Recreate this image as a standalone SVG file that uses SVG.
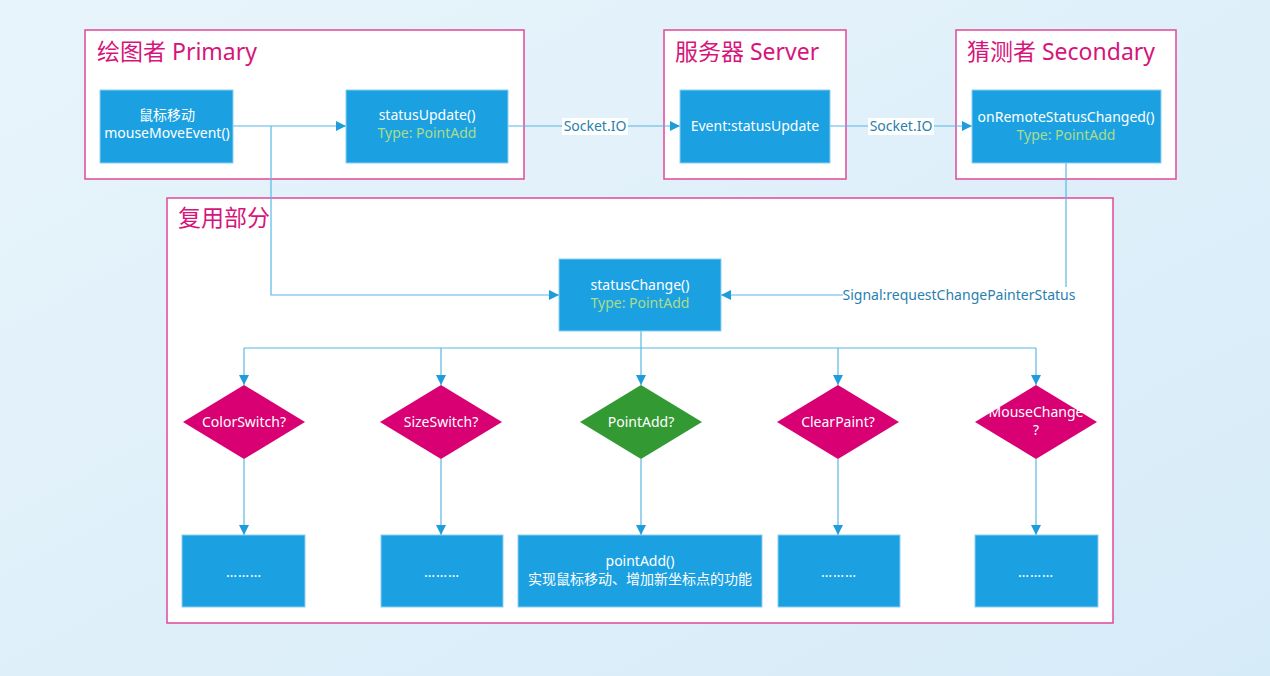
<svg xmlns="http://www.w3.org/2000/svg" width="1270" height="676" viewBox="0 0 1270 676">
<defs>
<linearGradient id="bg" x1="0" y1="0" x2="1" y2="1">
<stop offset="0" stop-color="#e8f4fb"/>
<stop offset="1" stop-color="#d6ebf8"/>
</linearGradient>
<marker id="arr" viewBox="0 0 10 10" refX="10" refY="5" markerWidth="10" markerHeight="10" markerUnits="userSpaceOnUse" orient="auto">
<path d="M0,0 L10,5 L0,10 Z" fill="#1f9ddb"/>
</marker>
<style>
.cont{fill:#ffffff;stroke:#e0489a;stroke-width:1.5}
.title{font-family:"Noto Sans","Noto Sans CJK SC",sans-serif;font-size:23px;fill:#d6157a}
.box{fill:#1ba1e2;stroke:#8ccff0;stroke-width:1}
.t{font-family:"Noto Sans","Noto Sans CJK SC",sans-serif;font-size:14px;fill:#ffffff;text-anchor:middle}
.g{fill:#a9dc8c}
.dots{letter-spacing:1px}
.dia{fill:#d80073}
.dia2{fill:#339933}
.ln{fill:none;stroke:#5bb6e6;stroke-width:1.2}
.lbl{font-family:"Noto Sans","Noto Sans CJK SC",sans-serif;font-size:14px;fill:#2a7fae;text-anchor:middle}
</style>
</defs>
<rect x="0" y="0" width="1270" height="676" fill="url(#bg)"/>

<g id="primary">
<rect class="cont" x="85" y="30" width="439" height="149"/>
<text class="title" x="97" y="60">绘图者 Primary</text>
</g>
<g id="server">
<rect class="cont" x="664" y="30" width="182" height="149"/>
<text class="title" x="675" y="60">服务器 Server</text>
</g>
<g id="secondary">
<rect class="cont" x="956" y="30" width="220" height="149"/>
<text class="title" x="967" y="60">猜测者 Secondary</text>
</g>
<g id="reuse">
<rect class="cont" x="167" y="198" width="946" height="425"/>
<text class="title" x="178" y="226">复用部分</text>
</g>

<g id="connectors">
<path class="ln" d="M233,126 H346" marker-end="url(#arr)"/>
<path class="ln" d="M271,126 V295 H559" marker-end="url(#arr)"/>
<path class="ln" d="M508,126 H680" marker-end="url(#arr)"/>
<rect x="562" y="118" width="66" height="17" fill="#ffffff"/>
<text class="lbl" x="595" y="131">Socket.IO</text>
<path class="ln" d="M830,126 H972" marker-end="url(#arr)"/>
<rect x="868" y="118" width="66" height="17" fill="#ffffff"/>
<text class="lbl" x="901" y="131">Socket.IO</text>
<path class="ln" d="M1066,163 V295 H721" marker-end="url(#arr)"/>
<rect x="843" y="287" width="234" height="17" fill="#ffffff"/>
<text class="lbl" x="959" y="300">Signal:requestChangePainterStatus</text>
<path class="ln" d="M641,331 V348"/>
<path class="ln" d="M244,348 H1036"/>
<path class="ln" d="M244,348 V385" marker-end="url(#arr)"/>
<path class="ln" d="M441,348 V385" marker-end="url(#arr)"/>
<path class="ln" d="M641,348 V385" marker-end="url(#arr)"/>
<path class="ln" d="M838,348 V385" marker-end="url(#arr)"/>
<path class="ln" d="M1036,348 V385" marker-end="url(#arr)"/>
<path class="ln" d="M244,459 V535" marker-end="url(#arr)"/>
<path class="ln" d="M441,459 V535" marker-end="url(#arr)"/>
<path class="ln" d="M641,459 V535" marker-end="url(#arr)"/>
<path class="ln" d="M838,459 V535" marker-end="url(#arr)"/>
<path class="ln" d="M1036,459 V535" marker-end="url(#arr)"/>
</g>

<g id="mouseMove">
<rect class="box" x="100" y="90" width="133" height="73"/>
<text class="t" x="167" y="120">鼠标移动</text>
<text class="t" x="167" y="138">mouseMoveEvent()</text>
</g>
<g id="statusUpdate">
<rect class="box" x="346" y="90" width="162" height="73"/>
<text class="t" x="427" y="120">statusUpdate()</text>
<text class="t g" x="427" y="138">Type: PointAdd</text>
</g>
<g id="eventStatusUpdate">
<rect class="box" x="680" y="90" width="150" height="73"/>
<text class="t" x="755" y="131">Event:statusUpdate</text>
</g>
<g id="onRemote">
<rect class="box" x="972" y="90" width="189" height="73"/>
<text class="t" x="1066" y="122">onRemoteStatusChanged()</text>
<text class="t g" x="1066" y="140">Type: PointAdd</text>
</g>
<g id="statusChange">
<rect class="box" x="559" y="259" width="162" height="72"/>
<text class="t" x="640" y="290">statusChange()</text>
<text class="t g" x="640" y="308">Type: PointAdd</text>
</g>

<g id="colorSwitch">
<polygon class="dia" points="244,385 305,422 244,459 183,422"/>
<text class="t" x="244" y="427">ColorSwitch?</text>
</g>
<g id="sizeSwitch">
<polygon class="dia" points="441,385 502,422 441,459 380,422"/>
<text class="t" x="441" y="427">SizeSwitch?</text>
</g>
<g id="pointAddQ">
<polygon class="dia2" points="641,385 702,422 641,459 580,422"/>
<text class="t" x="641" y="427">PointAdd?</text>
</g>
<g id="clearPaint">
<polygon class="dia" points="838,385 899,422 838,459 777,422"/>
<text class="t" x="838" y="427">ClearPaint?</text>
</g>
<g id="mouseChange">
<polygon class="dia" points="1036,385 1097,422 1036,459 975,422"/>
<text class="t" x="1036" y="417">MouseChange</text>
<text class="t" x="1036" y="435">?</text>
</g>

<g id="box1">
<rect class="box" x="182" y="535" width="123" height="72"/>
<text class="t dots" x="244" y="577">………</text>
</g>
<g id="box2">
<rect class="box" x="381" y="535" width="122" height="72"/>
<text class="t dots" x="442" y="577">………</text>
</g>
<g id="pointAdd">
<rect class="box" x="518" y="535" width="244" height="72"/>
<text class="t" x="640" y="566">pointAdd()</text>
<text class="t" x="640" y="584">实现鼠标移动、增加新坐标点的功能</text>
</g>
<g id="box4">
<rect class="box" x="778" y="535" width="122" height="72"/>
<text class="t dots" x="839" y="577">………</text>
</g>
<g id="box5">
<rect class="box" x="975" y="535" width="123" height="72"/>
<text class="t dots" x="1036" y="577">………</text>
</g>
</svg>
